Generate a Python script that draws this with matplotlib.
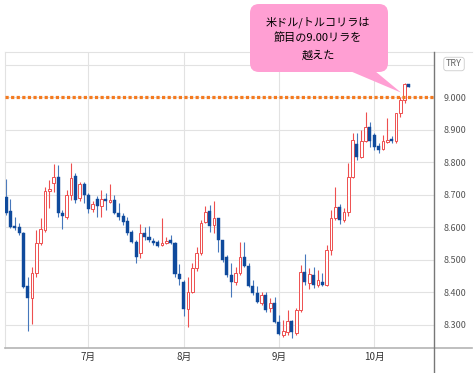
import matplotlib.pyplot as plt
import numpy as np
import pandas as pd
from matplotlib.lines import Line2D
from matplotlib.patches import FancyBboxPatch, Polygon
from matplotlib.transforms import IdentityTransform

plt.rcParams['font.family'] = ['Noto Sans CJK JP', 'DejaVu Sans']

# USD/TRY daily candles, 2021-06-04 .. 2021-10-13
dates = pd.bdate_range('2021-06-04', '2021-10-13')
opens = [8.695, 8.652, 8.605, 8.601, 8.582, 8.421, 8.382, 8.459, 8.551, 8.592,
         8.712, 8.738, 8.756, 8.646, 8.633, 8.700, 8.758, 8.690, 8.733, 8.700,
         8.656, 8.687, 8.666, 8.687, 8.679, 8.685, 8.646, 8.635, 8.620, 8.587,
         8.556, 8.521, 8.582, 8.570, 8.559, 8.554, 8.546, 8.551, 8.562, 8.553,
         8.457, 8.433, 8.348, 8.403, 8.474, 8.521, 8.618, 8.652, 8.608, 8.628,
         8.562, 8.510, 8.454, 8.433, 8.459, 8.510, 8.482, 8.420, 8.399, 8.367,
         8.392, 8.351, 8.369, 8.310, 8.269, 8.279, 8.313, 8.274, 8.346, 8.464,
         8.428, 8.454, 8.423, 8.433, 8.423, 8.531, 8.628, 8.662, 8.623, 8.649,
         8.756, 8.857, 8.818, 8.867, 8.910, 8.885, 8.851, 8.841, 8.864, 8.871,
         8.867, 8.951, 8.992, 9.042]
closes = [8.644, 8.603, 8.597, 8.582, 8.418, 8.382, 8.461, 8.551, 8.594, 8.713,
          8.718, 8.756, 8.644, 8.636, 8.700, 8.751, 8.685, 8.734, 8.700, 8.656,
          8.672, 8.666, 8.687, 8.683, 8.685, 8.644, 8.633, 8.618, 8.584, 8.556,
          8.508, 8.582, 8.570, 8.562, 8.553, 8.543, 8.553, 8.559, 8.553, 8.457,
          8.441, 8.348, 8.403, 8.474, 8.523, 8.615, 8.649, 8.605, 8.628, 8.562,
          8.500, 8.454, 8.433, 8.459, 8.510, 8.482, 8.420, 8.399, 8.372, 8.392,
          8.346, 8.367, 8.310, 8.272, 8.283, 8.312, 8.279, 8.346, 8.464, 8.433,
          8.457, 8.423, 8.438, 8.423, 8.531, 8.628, 8.662, 8.623, 8.649, 8.756,
          8.869, 8.816, 8.867, 8.910, 8.867, 8.849, 8.838, 8.867, 8.869, 8.867,
          8.951, 8.992, 9.042, 9.033]
highs = [8.748, 8.688, 8.633, 8.613, 8.585, 8.449, 8.479, 8.592, 8.628, 8.726,
         8.746, 8.794, 8.792, 8.654, 8.715, 8.799, 8.767, 8.741, 8.741, 8.707,
         8.682, 8.697, 8.715, 8.705, 8.734, 8.700, 8.674, 8.644, 8.633, 8.592,
         8.562, 8.611, 8.603, 8.605, 8.567, 8.562, 8.628, 8.572, 8.577, 8.556,
         8.488, 8.438, 8.449, 8.490, 8.541, 8.623, 8.666, 8.669, 8.683, 8.628,
         8.562, 8.515, 8.490, 8.479, 8.556, 8.556, 8.490, 8.438, 8.420, 8.403,
         8.403, 8.382, 8.387, 8.331, 8.315, 8.346, 8.315, 8.351, 8.485, 8.518,
         8.474, 8.477, 8.469, 8.461, 8.546, 8.654, 8.726, 8.672, 8.659, 8.797,
         8.890, 8.890, 8.900, 8.956, 8.926, 8.892, 8.859, 8.885, 8.936, 8.882,
         8.953, 9.003, 9.046, 9.042]
lows = [8.638, 8.597, 8.592, 8.577, 8.413, 8.283, 8.303, 8.449, 8.546, 8.587,
        8.660, 8.710, 8.633, 8.594, 8.625, 8.685, 8.676, 8.680, 8.676, 8.646,
        8.649, 8.633, 8.631, 8.654, 8.676, 8.641, 8.623, 8.608, 8.577, 8.551,
        8.492, 8.505, 8.562, 8.556, 8.546, 8.539, 8.543, 8.549, 8.549, 8.449,
        8.423, 8.328, 8.295, 8.397, 8.467, 8.515, 8.613, 8.587, 8.584, 8.526,
        8.495, 8.449, 8.387, 8.423, 8.454, 8.477, 8.416, 8.392, 8.367, 8.362,
        8.341, 8.341, 8.305, 8.269, 8.262, 8.269, 8.259, 8.270, 8.341, 8.423,
        8.410, 8.413, 8.418, 8.420, 8.420, 8.515, 8.623, 8.611, 8.618, 8.636,
        8.751, 8.808, 8.813, 8.862, 8.849, 8.838, 8.828, 8.838, 8.859, 8.860,
        8.860, 8.941, 8.982, 9.033]

level = 9.0
yticks = [8.3, 8.4, 8.5, 8.6, 8.7, 8.8, 8.9, 9.0, 9.1]
callout = ['米ドル/トルコリラは', '節目の9.00リラを', '越えた']

W, H = 475, 373
BLUE = '#0f4a9c'
BLUE_WICK = '#4677bb'
RED = '#ee4f4f'

fig = plt.figure(figsize=(W / 100, H / 100), dpi=100)
ax = fig.add_axes([5 / W, 25 / H, 429 / W, 296 / H])

x = np.arange(len(dates))
o = np.array(opens)
c = np.array(closes)
up = c >= o

# wicks
ax.vlines(x[up], np.array(lows)[up], np.array(highs)[up], color=RED, lw=0.8, zorder=2)
ax.vlines(x[~up], np.array(lows)[~up], np.array(highs)[~up], color=BLUE_WICK, lw=0.8, zorder=2)

# bodies
bottom = np.minimum(o, c)
height = np.maximum(np.abs(c - o), 0.004)
ax.bar(x[up], height[up], bottom=bottom[up], width=0.62, facecolor='white',
       edgecolor=RED, lw=0.7, zorder=3)
ax.bar(x[~up], height[~up], bottom=bottom[~up], width=0.7, facecolor=BLUE,
       edgecolor=BLUE, lw=0.3, zorder=3)

ax.axhline(level, color='#f47a1f', lw=2.3, linestyle=(0, (1.0, 0.75)),
           dash_capstyle='butt', zorder=4)

ax.set_xlim(-0.25, 98.8)
ax.set_ylim(8.2292, 9.14)

# month ticks
month_pos = [i for i in range(1, len(dates)) if dates[i].month != dates[i - 1].month]
ax.set_xticks(month_pos)
ax.set_xticklabels([f'{dates[i].month}月' for i in month_pos])
ax.set_yticks(yticks)
ax.set_yticklabels([f'{v:.3f}' if v <= 9.0 else '' for v in yticks])
ax.yaxis.tick_right()
ax.tick_params(axis='x', length=0, pad=3, labelsize=7, labelcolor='#333333')
ax.tick_params(axis='y', length=0, pad=7, labelsize=6.5, labelcolor='#555555')
ax.grid(True, color='#e2e2e2', lw=0.8, zorder=0)
ax.set_axisbelow(True)
for s in ['top', 'right', 'bottom']:
    ax.spines[s].set_visible(False)
ax.spines['left'].set_color('#e2e2e2')
ax.spines['left'].set_linewidth(0.8)

# frame lines outside the axes
fig.add_artist(Line2D([5 / W, 472 / W], [1 - 52 / H, 1 - 52 / H], color='#e2e2e2', lw=0.8))
fig.add_artist(Line2D([5 / W, 472 / W], [1 - 348 / H, 1 - 348 / H], color='#b4b4b4', lw=1.2))
fig.add_artist(Line2D([434 / W, 434 / W], [0, 1 - 52 / H], color='#777777', lw=1.0))

# currency box
fig.text(454 / W, 1 - 64 / H, 'TRY', ha='center', va='center', fontsize=6.5, color='#666666',
         bbox=dict(boxstyle='round,pad=0.25,rounding_size=0.3', fc='white', ec='#cccccc', lw=0.6))

# callout bubble
pink = '#ff9fd3'
fig.add_artist(FancyBboxPatch((250, H - 72), 138, 68, boxstyle='round,pad=0,rounding_size=9',
                              transform=IdentityTransform(), fc=pink, ec='none', zorder=10))
tip = ax.transData.transform((91.2, 9.015))
fig.add_artist(Polygon([(350, H - 71), (375, H - 71), tuple(tip)], closed=True,
                       transform=IdentityTransform(), fc=pink, ec='none', zorder=10))
for line, yy in zip(callout, [22, 38, 55]):
    fig.text(318 / W, 1 - yy / H, line, ha='center', va='center', fontsize=8, color='black', zorder=11)

fig.savefig('out.png', dpi=100)
